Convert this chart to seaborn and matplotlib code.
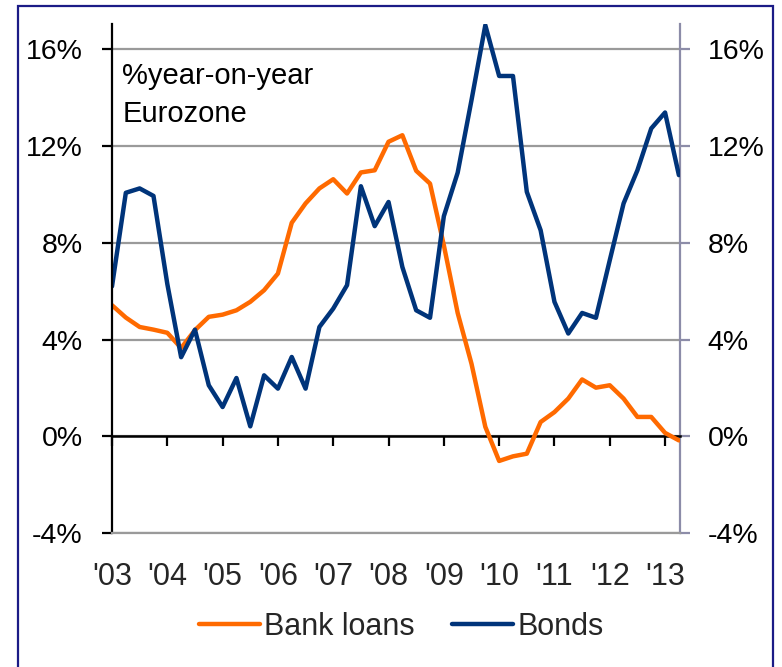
import numpy as np
import pandas as pd
import matplotlib
matplotlib.use("Agg")
import matplotlib.pyplot as plt
import matplotlib.patches as mpatches
from matplotlib import font_manager
import seaborn as sns

# ---- data (quarterly, %yoy) ----
quarters = [2003 + 0.25 * i for i in range(42)]
bank_loans = [5.42, 4.91, 4.52, 4.41, 4.28, 3.65, 4.39, 4.94, 5.03, 5.21,
              5.56, 6.04, 6.73, 8.83, 9.63, 10.25, 10.63, 10.04, 10.91, 11.0,
              12.18, 12.45, 10.98, 10.45, 7.9, 5.1, 3.0, 0.39, -1.02, -0.83,
              -0.72, 0.59, 1.0, 1.56, 2.35, 2.01, 2.11, 1.56, 0.8, 0.8,
              0.14, -0.17]
bonds = [6.2, 10.07, 10.25, 9.94, 6.3, 3.27, 4.41, 2.11, 1.21, 2.41,
         0.41, 2.52, 1.97, 3.28, 1.97, 4.52, 5.28, 6.25, 10.34, 8.69,
         9.69, 7.0, 5.21, 4.9, 9.1, 10.9, 13.9, 17.0, 14.9, 14.9,
         10.11, 8.52, 5.56, 4.25, 5.10, 4.90, 7.28, 9.63, 11.0, 12.73,
         13.39, 10.8]
series_names = ["Bank loans", "Bonds"]
year_ticks = list(range(2003, 2014))
year_labels = ["'03", "'04", "'05", "'06", "'07", "'08", "'09", "'10", "'11", "'12", "'13"]
y_ticks = [-4, 0, 4, 8, 12, 16]
y_labels = ["-4%", "0%", "4%", "8%", "12%", "16%"]

df = pd.DataFrame({
    "quarter": quarters * 2,
    "value": bank_loans + bonds,
    "series": [series_names[0]] * len(bank_loans) + [series_names[1]] * len(bonds),
})

sns.set_theme(style="white")
plt.rcParams["font.family"] = ["Liberation Sans", "DejaVu Sans"]

installed = {f.name for f in font_manager.fontManager.ttflist}
if "Liberation Sans Narrow" in installed:
    narrow_family, narrow_size = ["Liberation Sans Narrow"], 26
else:
    narrow_family, narrow_size = ["Liberation Sans"], 22

ORANGE = "#FF6A00"
NAVY = "#00347A"
GRID = "#9A9A9A"
RSPINE = "#8C8CA8"

W, H = 782, 667
fig = plt.figure(figsize=(W / 100, H / 100), dpi=100)
fig.patch.set_facecolor("white")

ax_left, ax_right, ax_top, ax_bot = 112, 680, 24, 533
rect = [ax_left / W, (H - ax_bot) / H, (ax_right - ax_left) / W, (ax_bot - ax_top) / H]

ax = fig.add_axes(rect)
axz = ax.twiny()   # zero line axis with ticks
axr = ax.twinx()   # right y axis (also carries gridlines)

xlim = (2003, 2013.27)
ylim = (-4, 17.05)

sns.lineplot(data=df, x="quarter", y="value", hue="series",
             palette={series_names[0]: ORANGE, series_names[1]: NAVY},
             linewidth=3.2, ax=ax, legend=True)

ax.set_xlim(*xlim)
ax.set_ylim(*ylim)
ax.set_xlabel("")
ax.set_ylabel("")

ax.set_yticks(y_ticks)
ax.set_yticklabels(y_labels, fontsize=20.5, color="black")
ax.grid(False)
ax.tick_params(axis="y", direction="out", length=7, width=1.6, color="black", pad=14, left=True)

ax.set_xticks(year_ticks)
ax.set_xticklabels(year_labels, fontsize=narrow_size, family=narrow_family)
ax.tick_params(axis="x", length=0, pad=21)

for s in ["top", "right"]:
    ax.spines[s].set_visible(False)
ax.spines["left"].set_color("black")
ax.spines["left"].set_linewidth(1.6)
ax.spines["bottom"].set_color(GRID)
ax.spines["bottom"].set_linewidth(1.6)

# zero axis with ticks
axz.set_xlim(*xlim)
axz.set_xticks(year_ticks)
axz.set_xticklabels([])
axz.xaxis.set_ticks_position("bottom")
axz.spines["bottom"].set_position(("data", 0))
axz.spines["bottom"].set_color("black")
axz.spines["bottom"].set_linewidth(1.8)
for s in ["top", "left", "right"]:
    axz.spines[s].set_visible(False)
axz.tick_params(axis="x", direction="out", length=7, width=1.6, color="black", bottom=True, top=False)
axz.grid(False)

# right axis + gridlines
axr.set_ylim(*ylim)
axr.set_yticks(y_ticks)
axr.set_yticklabels(y_labels, fontsize=20.5, color="black")
axr.tick_params(axis="y", direction="out", length=7, width=1.6, color=RSPINE, pad=13, right=True)
for s in ["top", "left", "bottom"]:
    axr.spines[s].set_visible(False)
axr.spines["right"].set_color(RSPINE)
axr.spines["right"].set_linewidth(1.6)
axr.yaxis.grid(True, color=GRID, linewidth=1.6)
axr.xaxis.grid(False)

# layering: gridlines < zero axis < data lines
axr.set_zorder(1)
axz.set_zorder(2)
ax.set_zorder(3)
ax.patch.set_visible(False)
axz.patch.set_visible(False)
axr.patch.set_visible(False)

ax.text(0.018, 0.926, "%year-on-year\nEurozone", transform=ax.transAxes,
        ha="left", va="top", fontsize=21, linespacing=1.45, color="black")

sns.move_legend(ax, "center", bbox_to_anchor=(401 / W, (H - 627) / H),
                bbox_transform=fig.transFigure, ncol=2, frameon=False, title=None,
                prop={"family": narrow_family, "size": narrow_size},
                handlelength=2.0, handletextpad=0.15, columnspacing=1.2)
for line in ax.get_legend().get_lines():
    line.set_linewidth(3.2)

# outer border
border = mpatches.Rectangle((18 / W, -0.02), (773 - 18) / W, (H - 6) / H + 0.02,
                            transform=fig.transFigure, fill=False,
                            edgecolor="#1B1B86", linewidth=1.6, clip_on=False)
fig.patches.append(border)

fig.savefig("out.png", dpi=100)
